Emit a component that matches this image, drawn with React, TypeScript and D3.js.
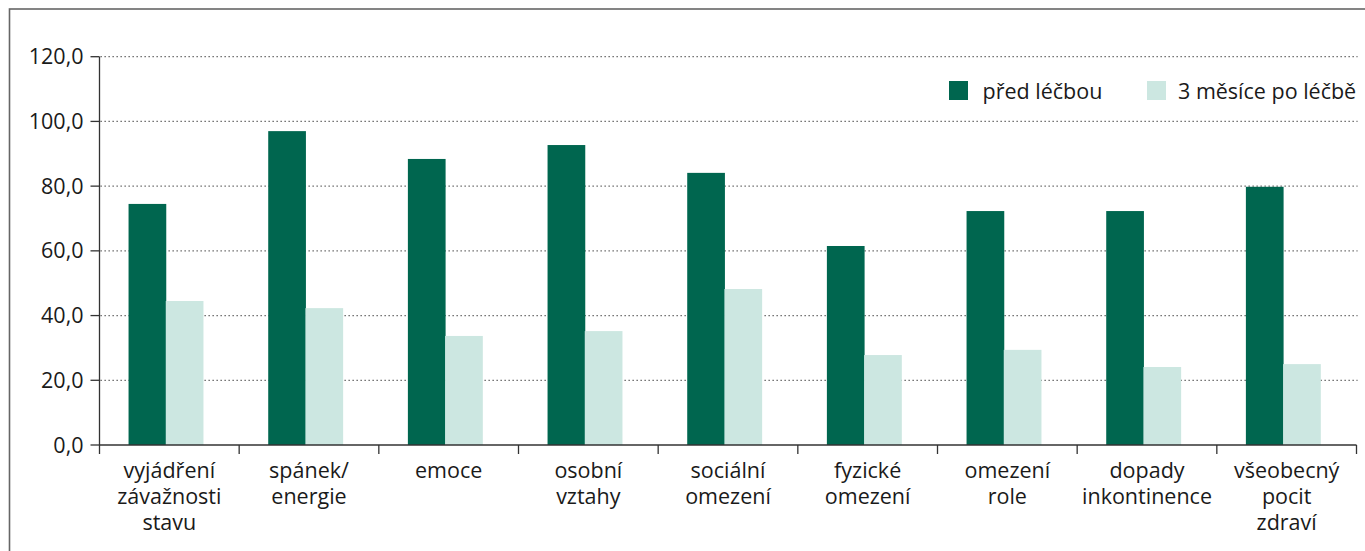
import React from "react";
import * as d3 from "d3";

const categories: string[][] = [
  ["vyjádření", "závažnosti", "stavu"],
  ["spánek/", "energie"],
  ["emoce"],
  ["osobní", "vztahy"],
  ["sociální", "omezení"],
  ["fyzické", "omezení"],
  ["omezení", "role"],
  ["dopady", "inkontinence"],
  ["všeobecný", "pocit", "zdraví"],
];
const beforeValues = [74.5, 97.0, 88.4, 92.7, 84.1, 61.5, 72.3, 72.3, 79.8];
const afterValues = [44.5, 42.3, 33.7, 35.2, 48.2, 27.8, 29.4, 24.1, 25.0];
const seriesNames = ["před léčbou", "3 měsíce po léčbě"];
const yTicks = [0, 20, 40, 60, 80, 100, 120];

const W = 1365;
const H = 551;
const DARK = "#00664f";
const LIGHT = "#cce7e1";
const FONT = "'Open Sans', 'Noto Sans', sans-serif";
const TEXT = "#1a1a1a";
const FS = 21.5;

export default function App() {
  const keys = categories.map((c) => c.join(" "));
  const x = d3.scaleBand<string>().domain(keys).range([99.5, 1356.5]).padding(0);
  const y = d3.scaleLinear().domain([0, 120]).range([445, 56.7]);
  const bw = x.bandwidth();
  const barW = bw * 0.27;
  const off = bw * 0.208;
  const fmt = (v: number) => v.toFixed(1).replace(".", ",");
  const x0 = 99.5;
  const x1 = 1356.5;

  return (
    <svg
      width={W}
      height={H}
      style={{ position: "absolute", left: 0, top: 0, background: "#fff" }}
      fontFamily={FONT}
    >
      <rect x={9.5} y={9} width={1500} height={700} fill="none" stroke="#666" strokeWidth={1.6} />

      {/* gridlines */}
      {yTicks.filter((t) => t > 0).map((t) => (
        <line
          key={"g" + t}
          x1={x0 + 1}
          x2={x1 + 1}
          y1={y(t)}
          y2={y(t)}
          stroke="#555"
          strokeWidth={1.3}
          strokeDasharray="1.3,2.7"
        />
      ))}

      {/* bars */}
      {keys.map((k, i) => (
        <g key={k}>
          <rect x={(x(k) as number) + off} y={y(beforeValues[i])} width={barW} height={445 - y(beforeValues[i])} fill={DARK} />
          <rect x={(x(k) as number) + off + barW - 0.5} y={y(afterValues[i])} width={barW} height={445 - y(afterValues[i])} fill={LIGHT} />
        </g>
      ))}

      {/* y axis */}
      <line x1={x0} x2={x0} y1={y(120)} y2={445} stroke="#333" strokeWidth={1.3} />
      {yTicks.map((t) => (
        <g key={"y" + t}>
          <line x1={x0 - 9} x2={x0} y1={y(t)} y2={y(t)} stroke="#333" strokeWidth={1.3} />
          <text x={83.5} y={y(t)} dy="0.35em" textAnchor="end" fontSize={FS} fill={TEXT}>
            {fmt(t)}
          </text>
        </g>
      ))}

      {/* x axis */}
      <line x1={x0} x2={x1} y1={445} y2={445} stroke="#333" strokeWidth={1.3} />
      {keys.map((k) => (
        <line key={"t" + k} x1={x(k) as number} x2={x(k) as number} y1={445} y2={454} stroke="#333" strokeWidth={1.3} />
      ))}
      <line x1={x1} x2={x1} y1={445} y2={454} stroke="#333" strokeWidth={1.3} />
      {categories.map((lines, i) => (
        <text
          key={"l" + i}
          x={(x(keys[i]) as number) + bw / 2}
          y={477.5}
          textAnchor="middle"
          fontSize={FS}
          fill={TEXT}
        >
          {lines.map((ln, j) => (
            <tspan key={j} x={(x(keys[i]) as number) + bw / 2} dy={j === 0 ? 0 : 26}>
              {ln}
            </tspan>
          ))}
        </text>
      ))}

      {/* legend */}
      <rect x={949} y={81} width={19} height={19} fill={DARK} />
      <text x={982.5} y={99} fontSize={FS} fill={TEXT}>{seriesNames[0]}</text>
      <rect x={1147} y={81} width={19} height={19} fill={LIGHT} />
      <text x={1178} y={99} fontSize={FS} fill={TEXT}>{seriesNames[1]}</text>
    </svg>
  );
}
